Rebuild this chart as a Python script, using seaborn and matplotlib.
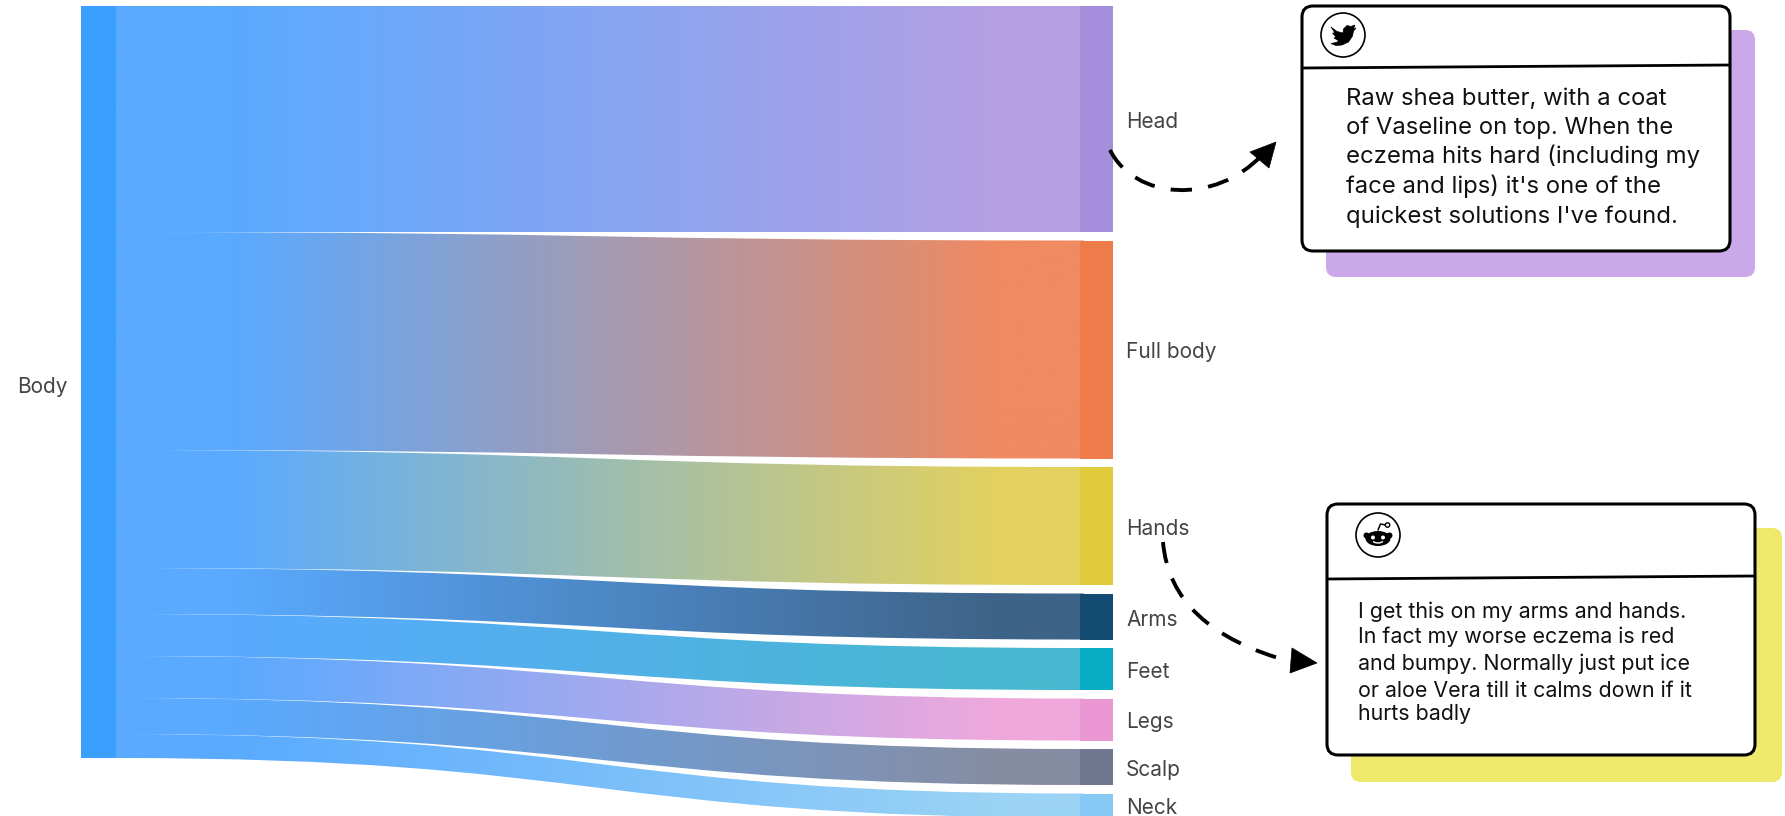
# -*- coding: utf-8 -*-
import numpy as np
import matplotlib
matplotlib.use('Agg')
import matplotlib.pyplot as plt
from matplotlib.path import Path
from matplotlib.patches import PathPatch, FancyBboxPatch, Polygon, Circle, Ellipse
import seaborn as sns

# data: band sizes
parts = ['Head', 'Full body', 'Hands', 'Arms', 'Feet', 'Legs', 'Scalp', 'Neck']
values = [226, 218, 118, 46, 42, 42, 36, 24]
node_colors = ['#A58FDD', '#EE7B4A', '#E0CB3C', '#134B73', '#09ADC6', '#EA97D3', '#6F7890', '#85C8F3']
link_colors = ['#B59FE3', '#EF8A62', '#E3D15F', '#3E6388', '#47B8CF', '#F0A8DC', '#868DA3', '#9BD3F5']
source = 'Body'

tweet_lines = ['Raw shea butter, with a coat', 'of Vaseline on top. When the',
               'eczema hits hard (including my', "face and lips) it's one of the",
               "quickest solutions I've found."]
reddit_lines = ['I get this on my arms and hands.', 'In fact my worse eczema is red',
                'and bumpy. Normally just put ice', 'or aloe Vera till it calms down if it',
                'hurts badly']

sns.set_theme(style='white')
plt.rcParams['font.family'] = ['Inter', 'DejaVu Sans']

fig = plt.figure(figsize=(17.85, 8.16), dpi=100)
ax = fig.add_axes([0, 0, 1, 1])

# layout in pixels of the figure
TOP = 6
GAP = 8.5
LEFT_X0, LEFT_X1 = 81, 116
RIGHT_X0, RIGHT_X1 = 1080, 1113
MID = (LEFT_X1 + RIGHT_X0) / 2
START = '#5AAAFF'
LABEL = '#444444'


def band_path(l0, l1, r0, r1):
    # runs a little way under both nodes so no seam shows
    a, b = LEFT_X1 - 4, RIGHT_X0 + 4
    verts = [(a, l0), (LEFT_X1, l0), (MID, l0), (MID, r0), (RIGHT_X0, r0), (b, r0), (b, r1), (RIGHT_X0, r1),
             (MID, r1), (MID, l1), (LEFT_X1, l1), (a, l1), (a, l0)]
    codes = [Path.MOVETO, Path.LINETO, Path.CURVE4, Path.CURVE4, Path.CURVE4, Path.LINETO, Path.LINETO, Path.LINETO,
             Path.CURVE4, Path.CURVE4, Path.CURVE4, Path.LINETO, Path.CLOSEPOLY]
    return Path(verts, codes)


left_y = TOP
right_y = TOP
for name, v, nc, lc in zip(parts, values, node_colors, link_colors):
    # gradient band, flat for a stretch at both ends
    pal = [START] * 30 + sns.blend_palette([START, lc], 204) + [lc] * 22
    grad = np.array([matplotlib.colors.to_rgb(c) for c in pal]).reshape(1, -1, 3)
    im = ax.imshow(grad, extent=[LEFT_X1, RIGHT_X0 + 4, 816, 0], aspect='auto', zorder=1, interpolation='bilinear')
    patch = PathPatch(band_path(left_y, left_y + v, right_y, right_y + v), transform=ax.transData,
                      facecolor='none', edgecolor='none')
    ax.add_patch(patch)
    im.set_clip_path(patch)
    ax.bar(RIGHT_X0, v, width=RIGHT_X1 - RIGHT_X0, bottom=right_y, align='edge', color=nc, linewidth=0, zorder=2)
    ax.text(1126, right_y + v / 2 + 3, name, color=LABEL, fontsize=15, va='center', ha='left', zorder=5)
    left_y += v
    right_y += v + GAP

ax.bar(LEFT_X0, sum(values), width=LEFT_X1 - LEFT_X0, bottom=TOP, align='edge', color='#3A9FFF', linewidth=0, zorder=2)
ax.text(17, TOP + sum(values) / 2 + 5, source, color=LABEL, fontsize=15, va='center', ha='left', zorder=5)


def card(x0, y0, x1, y1, shadow, sx0, sy0, sx1, sy1, div_l, div_r):
    ax.add_patch(FancyBboxPatch((sx0, sy0), sx1 - sx0, sy1 - sy0, boxstyle='round,pad=0,rounding_size=10',
                                facecolor=shadow, edgecolor='none', zorder=3))
    ax.add_patch(FancyBboxPatch((x0, y0), x1 - x0, y1 - y0, boxstyle='round,pad=0,rounding_size=11',
                                facecolor='white', edgecolor='black', linewidth=2.2, zorder=4))
    ax.plot([x0, x1], [div_l, div_r], color='black', lw=2, zorder=5, solid_capstyle='butt')


card(1302, 6, 1730, 251, '#CBA8EA', 1326, 30, 1755, 277, 68, 65)
card(1327, 504, 1755, 755, '#EEE96B', 1351, 528, 1782, 782, 579, 576)

for line, y in zip(tweet_lines, [105, 134, 163.5, 193, 223]):
    ax.text(1346, y, line, color='#111111', fontsize=17.2, va='baseline', ha='left', zorder=6)
for line, y in zip(reddit_lines, [618, 643, 670, 697, 720]):
    ax.text(1358, y, line, color='#111111', fontsize=15.4, va='baseline', ha='left', zorder=6)

# twitter icon
cx, cy = 1343, 35
ax.add_patch(Circle((cx, cy), 22, facecolor='white', edgecolor='black', lw=1.2, zorder=6))
bird = [(-12, -8), (-6, -3.5), (0, -2), (0.5, -6), (4, -9.5), (8, -8.5), (12, -10), (10.5, -6.5), (13, -7),
        (10.5, -4), (9.5, 1), (5.5, 7), (-1, 10), (-7, 10.5), (-12, 8.5), (-7, 7.5), (-4, 6), (-9, 3),
        (-7, 2), (-10.5, -2), (-8, -2)]
ax.add_patch(Polygon([(cx + a, cy + b) for a, b in bird], facecolor='black', edgecolor='black', lw=0.5, zorder=7))

# reddit icon
cx, cy = 1378, 535
ax.add_patch(Circle((cx, cy), 22, facecolor='white', edgecolor='black', lw=1.2, zorder=6))
ax.add_patch(Ellipse((cx, cy + 3.5), 25, 15, facecolor='black', edgecolor='none', zorder=7))
for sx in (-1, 1):
    ax.add_patch(Circle((cx + sx * 11.5, cy + 0.5), 3, facecolor='black', edgecolor='none', zorder=7))
    ax.add_patch(Circle((cx + sx * 5, cy + 2.5), 2, facecolor='white', edgecolor='none', zorder=8))
ax.plot([cx, cx + 2.5, cx + 8], [cy - 5, cy - 11, cy - 10], color='black', lw=1.1, zorder=7)
ax.add_patch(Circle((cx + 9.5, cy - 10), 2.2, facecolor='white', edgecolor='black', lw=1, zorder=7))
t = np.linspace(0.15, 0.85, 12) * np.pi
ax.plot(cx + 5 * np.cos(t), cy + 5.5 + 2.5 * np.sin(t), color='white', lw=1, zorder=8)

# dashed arrows
for pts, head in [
    ([(1110, 150), (1135, 200), (1215, 205), (1262, 155)], [(1276, 142), (1250, 152), (1269, 168)]),
    ([(1163, 542), (1168, 600), (1210, 640), (1292, 662)], [(1317, 663), (1292, 648), (1290, 673)]),
]:
    ax.add_patch(PathPatch(Path(pts, [Path.MOVETO, Path.CURVE4, Path.CURVE4, Path.CURVE4]), facecolor='none',
                           edgecolor='black', lw=2.8, linestyle=(0, (5.5, 4.2)), zorder=6))
    ax.add_patch(Polygon(head, facecolor='black', edgecolor='black', lw=0.5, zorder=7))

ax.set_xlim(0, 1785)
ax.set_ylim(816, 0)
ax.axis('off')
fig.savefig('out.png', dpi=100, facecolor='white')
